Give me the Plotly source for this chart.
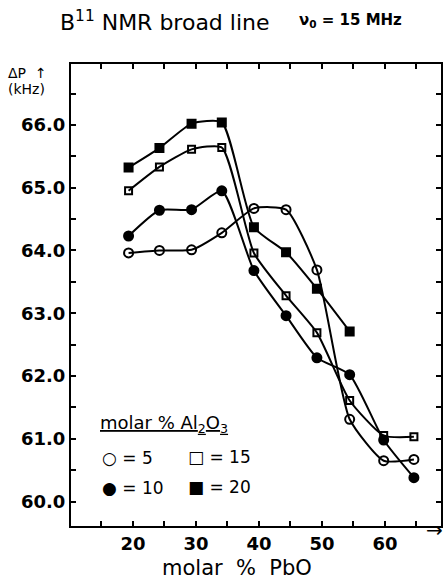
import plotly.graph_objects as go

# PbO content (molar %)
pbo = [19.3, 24.2, 29.3, 34.1, 39.2, 44.3, 49.2, 54.4, 59.8, 64.6]

# Broad-line width ΔP (kHz) for each Al2O3 content
dp_al5 = [63.96, 64.00, 64.01, 64.28, 64.67, 64.65, 63.69, 61.31, 60.65, 60.67]
dp_al10 = [64.23, 64.64, 64.65, 64.95, 63.68, 62.96, 62.29, 62.02, 60.98, 60.38]
dp_al15 = [64.95, 65.33, 65.61, 65.64, 63.96, 63.28, 62.69, 61.61, 61.05, 61.03]
dp_al20 = [65.32, 65.63, 66.02, 66.04, 64.37, 63.97, 63.39, 62.71]

x_range = [10.16, 68.9]
y_range = [59.61, 66.97]

# plot-area geometry in pixels
L, R, T, B = 71, 443, 64, 526
W, H = 447, 586
PW, PH = R - L, B - T


def px(x):
    return (x - L) / PW


def py(y):
    return (B - y) / PH


FONT = "DejaVu Sans"
series = [
    (dp_al5, "circle-open", 9, "5"),
    (dp_al10, "circle", 9, "10"),
    (dp_al15, "square-open", 7, "15"),
    (dp_al20, "square", 8, "20"),
]

fig = go.Figure()
for vals, sym, size, name in series:
    fig.add_trace(go.Scatter(
        x=pbo[:len(vals)], y=vals, mode="lines+markers", name=name,
        line=dict(color="black", width=2, shape="spline", smoothing=0.55),
        marker=dict(symbol=sym, size=size, color="black",
                    line=dict(color="black", width=2)),
        showlegend=False,
    ))

axis_common = dict(
    showline=True, linecolor="black", linewidth=2, mirror="ticks",
    ticks="inside", ticklen=5, tickwidth=1.5, tickcolor="black",
    showgrid=False, zeroline=False,
    tickfont=dict(family=FONT, size=18, color="black", weight="bold"),
)
fig.update_xaxes(range=x_range, tick0=0, dtick=10,
                 minor=dict(dtick=5, tick0=0, ticks="inside", ticklen=5, tickcolor="black"),
                 **axis_common)
fig.update_yaxes(range=y_range, tick0=60, dtick=1, tickformat=".1f",
                 minor=dict(dtick=0.5, tick0=60, ticks="inside", ticklen=5, tickcolor="black"),
                 **axis_common)

ann = []


def text(t, x, y, size, anchor="left", weight="normal"):
    ann.append(dict(text=t, x=px(x), y=py(y), xref="paper", yref="paper",
                    xanchor=anchor, yanchor="middle", showarrow=False,
                    font=dict(family=FONT, size=size, color="black", weight=weight)))


text("B<sup>11</sup> NMR broad line", 58, 21, 22)
text("ν<sub>0</sub> = 15 MHz", 298, 21, 15, weight="bold")
text("ΔP  ↑", 6, 73, 14)
text("(kHz)", 6, 89, 14)
text("molar  %  PbO", 238, 568, 21, anchor="center")
text("→", 436, 530, 20, anchor="center")
text("<u>molar % Al<sub>2</sub>O<sub>3</sub></u>", 98, 424, 18)
text("○ = 5", 100, 458, 17)
text("□ = 15", 187, 457, 17)
text("● = 10", 100, 488, 17)
text("■ = 20", 187, 487, 17)

fig.update_layout(
    width=W, height=H,
    margin=dict(l=L, r=W - R, t=T, b=H - B),
    paper_bgcolor="white", plot_bgcolor="white",
    annotations=ann,
)
fig.write_html("out.html")
